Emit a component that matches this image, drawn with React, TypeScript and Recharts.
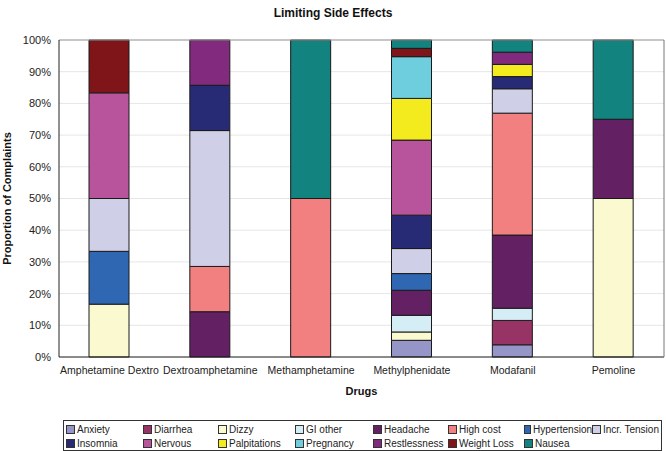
import { BarChart, Bar, XAxis, YAxis, CartesianGrid, ReferenceLine } from "recharts";

// Complaint counts per drug; chart shows each drug's share (stackOffset="expand").
const drugs = [
  "Amphetamine Dextro",
  "Dextroamphetamine",
  "Methamphetamine",
  "Methylphenidate",
  "Modafanil",
  "Pemoline",
];

const anxiety = [0, 0, 0, 2, 1, 0];
const diarrhea = [0, 0, 0, 0, 2, 0];
const dizzy = [1, 0, 0, 1, 0, 2];
const giOther = [0, 0, 0, 2, 1, 0];
const headache = [0, 1, 0, 3, 6, 1];
const highCost = [0, 1, 1, 0, 10, 0];
const hypertension = [1, 0, 0, 2, 0, 0];
const incrTension = [1, 3, 0, 3, 2, 0];
const insomnia = [0, 1, 0, 4, 1, 0];
const nervous = [2, 0, 0, 9, 0, 0];
const palpitations = [0, 0, 0, 5, 1, 0];
const pregnancy = [0, 0, 0, 5, 0, 0];
const restlessness = [0, 1, 0, 0, 1, 0];
const weightLoss = [1, 0, 0, 1, 0, 0];
const nausea = [0, 0, 1, 1, 1, 1];

const yTicks = [0, 0.1, 0.2, 0.3, 0.4, 0.5, 0.6, 0.7, 0.8, 0.9, 1];

const series = [
  { key: "anxiety", name: "Anxiety", color: "#9595c8", values: anxiety },
  { key: "diarrhea", name: "Diarrhea", color: "#983366", values: diarrhea },
  { key: "dizzy", name: "Dizzy", color: "#fbf9d0", values: dizzy },
  { key: "giOther", name: "GI other", color: "#d5edf4", values: giOther },
  { key: "headache", name: "Headache", color: "#632163", values: headache },
  { key: "highCost", name: "High cost", color: "#f28080", values: highCost },
  { key: "hypertension", name: "Hypertension", color: "#2f67b3", values: hypertension },
  { key: "incrTension", name: "Incr. Tension", color: "#d0cfe8", values: incrTension },
  { key: "insomnia", name: "Insomnia", color: "#272a74", values: insomnia },
  { key: "nervous", name: "Nervous", color: "#b8549c", values: nervous },
  { key: "palpitations", name: "Palpitations", color: "#f4eb1e", values: palpitations },
  { key: "pregnancy", name: "Pregnancy", color: "#6fcedd", values: pregnancy },
  { key: "restlessness", name: "Restlessness", color: "#822b7e", values: restlessness },
  { key: "weightLoss", name: "Weight Loss", color: "#7f1518", values: weightLoss },
  { key: "nausea", name: "Nausea", color: "#12837f", values: nausea },
];

const data = drugs.map((drug, i) => {
  const row: Record<string, string | number> = { drug };
  series.forEach((s) => {
    row[s.key] = s.values[i];
  });
  return row;
});

const FONT = "'Liberation Sans', Arial, sans-serif";
const legendCols = [77, 75, 77, 78, 75, 76, 68, 68];

export default function App() {
  return (
    <div style={{ position: "absolute", left: 0, top: 0, width: 666, height: 451, fontFamily: FONT }}>
      <div
        style={{
          position: "absolute",
          top: 6,
          left: 0,
          width: 666,
          textAlign: "center",
          fontSize: 12,
          fontWeight: "bold",
          color: "#111",
        }}
      >
        Limiting Side Effects
      </div>
      <BarChart
        width={666}
        height={451}
        data={data}
        stackOffset="expand"
        margin={{ top: 40, right: 0, bottom: 56, left: 0 }}
        style={{ fontFamily: FONT }}
      >
        <CartesianGrid yAxisId="left" stroke="#e6e6e6" vertical={false} />
        <XAxis
          dataKey="drug"
          height={38}
          interval={0}
          tickLine={false}
          tickMargin={4}
          axisLine={{ stroke: "#222" }}
          tick={{ fill: "#222", fontSize: 10.5 }}
          label={{ value: "Drugs", position: "insideBottom", offset: 0, fill: "#111", fontSize: 11, fontWeight: "bold" }}
        />
        <YAxis
          yAxisId="left"
          width={59}
          domain={[0, 1]}
          ticks={yTicks}
          tickLine={false}
          axisLine={{ stroke: "#222" }}
          tick={{ fill: "#222", fontSize: 11 }}
          tickFormatter={(v) => `${Math.round(v * 100)}%`}
          label={{
            content: ({ viewBox }: any) => {
              const cx = viewBox.x + 7;
              const cy = viewBox.y + viewBox.height / 2;
              return (
                <text
                  x={cx}
                  y={cy}
                  transform={`rotate(-90, ${cx}, ${cy})`}
                  textAnchor="middle"
                  dominantBaseline="central"
                  fontSize={11}
                  fontWeight="bold"
                  fill="#111"
                >
                  Proportion of Complaints
                </text>
              );
            },
          }}
        />
        <YAxis
          yAxisId="right"
          orientation="right"
          width={2}
          domain={[0, 1]}
          tick={false}
          tickLine={false}
          axisLine={{ stroke: "#777" }}
        />
        <ReferenceLine yAxisId="left" y={1} stroke="#999" />
        {series.map((s) => (
          <Bar
            key={s.key}
            yAxisId="left"
            dataKey={s.key}
            name={s.name}
            stackId="a"
            fill={s.color}
            stroke="#1a1a1a"
            strokeWidth={1}
            barSize={40}
            isAnimationActive={false}
          />
        ))}
      </BarChart>
      <div
        style={{
          position: "absolute",
          left: 63,
          top: 420,
          width: 595,
          height: 28,
          border: "1px solid #333",
          display: "grid",
          gridTemplateColumns: legendCols.map((w) => `${w}px`).join(" "),
          gridAutoRows: "14px",
          padding: "1px 0 0 2px",
          fontSize: 10,
          color: "#222",
        }}
      >
        {series.map((s) => (
          <div key={s.key} style={{ display: "flex", alignItems: "center", whiteSpace: "nowrap" }}>
            <span
              style={{
                display: "inline-block",
                width: 7,
                height: 7,
                background: s.color,
                border: "1px solid #333",
                marginRight: 2,
              }}
            />
            {s.name}
          </div>
        ))}
      </div>
    </div>
  );
}
